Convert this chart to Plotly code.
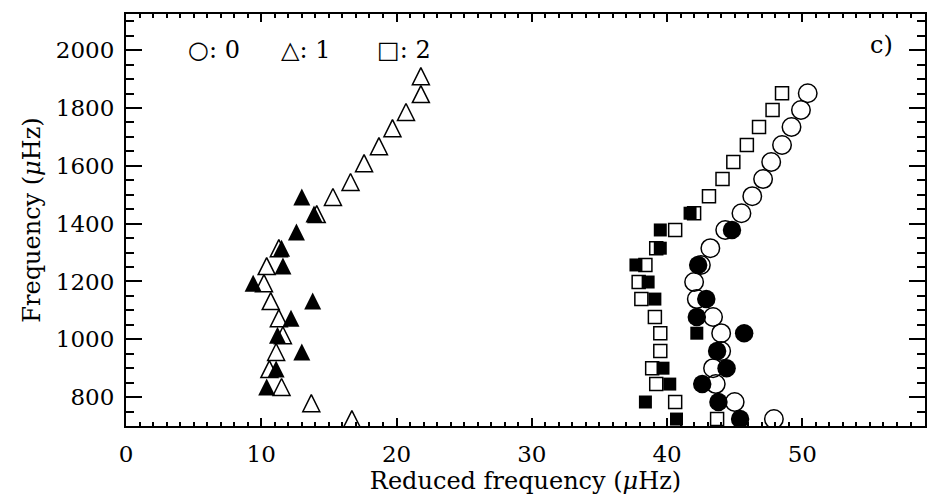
import plotly.graph_objects as go

# l = 0 (circles), open: set A; filled: set B
x0_open = [50.4, 49.9, 49.2, 48.5, 47.7, 47.1, 46.3, 45.5, 44.3, 43.2,
           42.5, 42.0, 42.2, 43.4, 44.0, 44.0, 43.4, 43.6, 45.0, 47.9]
y0_open = [1851, 1793, 1734, 1672, 1613, 1554, 1495, 1436, 1378, 1315,
           1257, 1198, 1139, 1077, 1021, 959, 900, 845, 783, 724]
x0_fill = [44.8, 42.3, 42.9, 42.2, 45.7, 43.7, 44.4, 42.6, 43.8, 45.4]
y0_fill = [1378, 1257, 1139, 1077, 1021, 959, 900, 845, 783, 724]

# l = 1 (triangles)
x1_open = [21.8, 21.8, 20.7, 19.7, 18.7, 17.6, 16.6, 15.3, 14.1, 11.3,
           10.4, 10.2, 10.7, 11.3, 11.6, 11.1, 10.6, 11.5, 13.7, 16.7]
y1_open = [1910, 1848, 1786, 1730, 1668, 1609, 1544, 1492, 1433, 1315,
           1253, 1194, 1132, 1073, 1014, 956, 897, 835, 779, 724]
x1_fill = [13.0, 13.9, 12.6, 11.5, 11.6, 9.4, 13.8, 12.2, 11.2, 13.0, 11.1, 10.4]
y1_fill = [1492, 1433, 1371, 1315, 1253, 1194, 1132, 1073, 1014, 956, 897, 835]

# l = 2 (squares)
x2_open = [48.5, 47.8, 46.8, 45.9, 44.9, 44.1, 43.1, 42.0, 40.6, 39.2,
           38.4, 37.9, 38.1, 39.1, 39.5, 39.5, 38.9, 39.2, 40.6, 43.7]
y2_open = [1851, 1793, 1734, 1672, 1613, 1554, 1495, 1436, 1378, 1315,
           1257, 1198, 1139, 1077, 1021, 959, 900, 845, 783, 724]
x2_fill = [41.7, 39.5, 39.5, 37.7, 38.6, 39.1, 42.2, 39.7, 40.2, 38.4, 40.7]
y2_fill = [1436, 1378, 1315, 1257, 1198, 1139, 1021, 900, 845, 783, 724]

x_ticks = [0, 10, 20, 30, 40, 50]
y_ticks = [800, 1000, 1200, 1400, 1600, 1800, 2000]
legend_labels = ["○: 0", "△: 1", "□: 2"]
legend_x = [6.5, 13.3, 20.55]
panel_label = "c)"

FONT = "DejaVu Serif"
FS = 24
CIRC = 18.5
SQ = 13
TRI = 17

fig = go.Figure()

def add(x, y, symbol, size, filled, **extra):
    m = dict(symbol=symbol, size=size, color="black",
             line=dict(width=1.5 if not filled else 0, color="black"))
    m.update(extra)
    fig.add_trace(go.Scatter(x=x, y=y, mode="markers", marker=m,
                             showlegend=False, hoverinfo="skip"))

add(x0_open, y0_open, "circle-open", CIRC, False)
add(x2_open, y2_open, "square-open", SQ, False)
add(x1_open, y1_open, "arrow-down-open", TRI, False, angle=180, standoff=TRI / 2)
add(x0_fill, y0_fill, "circle", CIRC, True)
add(x2_fill, y2_fill, "square", SQ, True)
add(x1_fill, y1_fill, "arrow-down", TRI, True, angle=180, standoff=TRI / 2)

for lab, lx in zip(legend_labels, legend_x):
    fig.add_annotation(x=lx, y=2000, xref="x", yref="y", text=lab, showarrow=False,
                       font=dict(family=FONT, size=FS, color="black"),
                       xanchor="center", yanchor="middle")

fig.add_annotation(x=0.946, y=0.925, xref="paper", yref="paper", text=panel_label,
                   showarrow=False, font=dict(family=FONT, size=FS, color="black"),
                   xanchor="center", yanchor="middle")

axis_common = dict(showline=True, linecolor="black", linewidth=2, mirror="allticks",
                   ticks="inside", tickcolor="black", tickwidth=1.5,
                   showgrid=False, zeroline=False,
                   tickfont=dict(family=FONT, size=FS - 1, color="black"))

fig.update_xaxes(range=[0, 59.07], tickvals=x_ticks, ticklen=8,
                 minor=dict(dtick=1, tick0=0, ticklen=4, ticks="inside",
                            tickcolor="black", tickwidth=1.5, showgrid=False),
                 title=dict(text="Reduced frequency (<i>μ</i>Hz)",
                            font=dict(family=FONT, size=FS, color="black"), standoff=4),
                 ticklabelstandoff=6,
                 **axis_common)
fig.update_yaxes(range=[700, 2125], tickvals=y_ticks, ticklen=16,
                 minor=dict(dtick=50, tick0=0, ticklen=8, ticks="inside",
                            tickcolor="black", tickwidth=1.5, showgrid=False),
                 title=dict(text="Frequency (<i>μ</i>Hz)",
                            font=dict(family=FONT, size=FS, color="black"), standoff=8),
                 ticklabelstandoff=5,
                 **axis_common)

fig.update_layout(width=927, height=498, autosize=False,
                  margin=dict(l=126, r=0, t=14, b=72, pad=0),
                  paper_bgcolor="white", plot_bgcolor="white")

fig.write_html("out.html")
